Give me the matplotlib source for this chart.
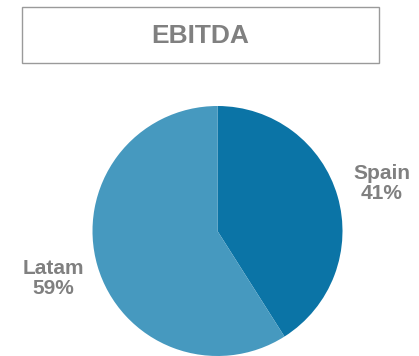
import matplotlib.pyplot as plt
from matplotlib.patches import Rectangle

plt.rcParams['font.family'] = ['Liberation Sans', 'DejaVu Sans']

title = "EBITDA"
regions = ["Spain", "Latam"]
shares = [41, 59]
colors = ["#0B74A6", "#4699BF"]
grey = "#808080"

W, H = 419, 356
fig = plt.figure(figsize=(W / 100, H / 100), dpi=100)

# pie sits in a square axes, centre ~ (217, 231) px, radius ~125 px
cx, cy, r = 217.5, 231, 125
ax = fig.add_axes([(cx - r) / W, (H - cy - r) / H, 2 * r / W, 2 * r / H])
labels = [f"{n}\n{s}%" for n, s in zip(regions, shares)]
wedges, texts = ax.pie(shares, colors=colors, startangle=90, counterclock=False,
                       labels=labels, labeldistance=1.37,
                       textprops=dict(color=grey, fontsize=15, fontweight="bold",
                                      linespacing=1.05))
for w in wedges:
    w.set_clip_on(False)
for t in texts:
    t.set_ha("center")
    t.set_va("center")
ax.set_xlim(-1, 1)
ax.set_ylim(-1, 1)
ax.set_aspect("equal")

# boxed heading
x0, y0, x1, y1 = 22, 7, 379, 63
fig.patches.append(Rectangle((x0 / W, 1 - y1 / H), (x1 - x0) / W, (y1 - y0) / H,
                             transform=fig.transFigure, fill=False,
                             edgecolor="#9a9a9a", linewidth=1.0))
fig.text((x0 + x1) / 2 / W, 1 - 36 / H, title, ha="center", va="center",
         color=grey, fontsize=19, fontweight="bold")

fig.savefig("out.png", dpi=100)
